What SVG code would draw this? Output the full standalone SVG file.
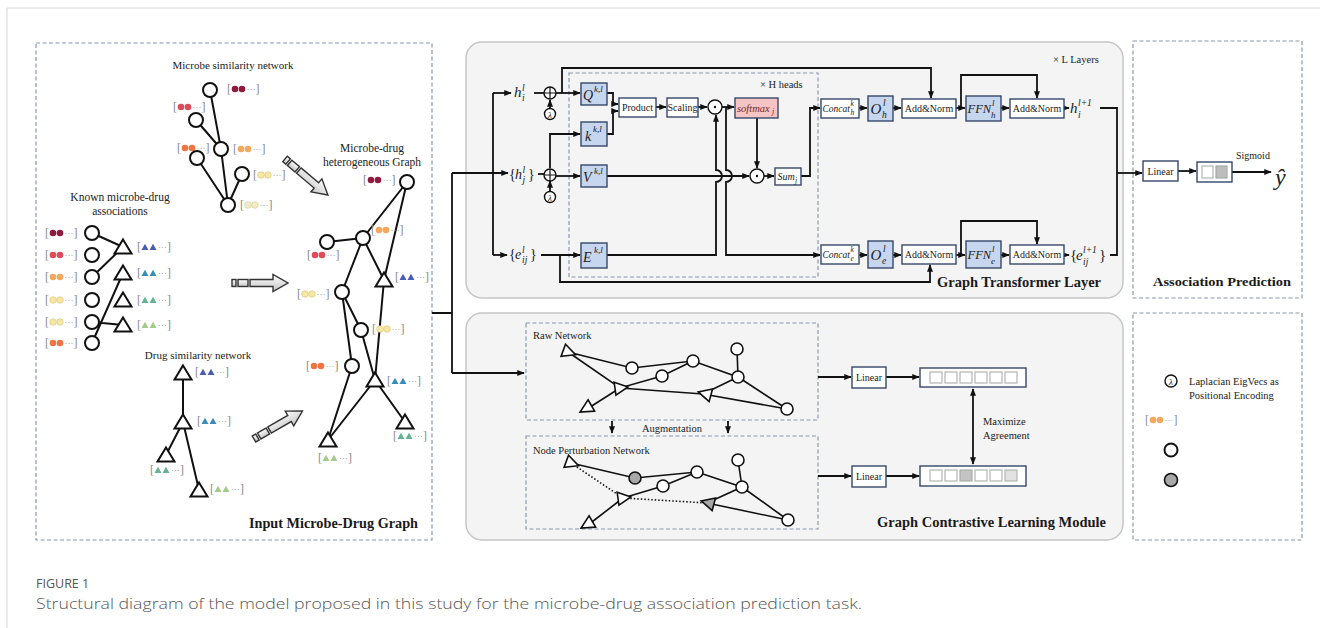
<svg xmlns="http://www.w3.org/2000/svg" width="1320" height="628" viewBox="0 0 1320 628">
<style>
 .t{font-family:'Liberation Serif','DejaVu Serif',serif;fill:#222}
 .m{font-family:'Liberation Serif','DejaVu Serif',serif;font-style:italic;fill:#222}
 .b{font-family:'Liberation Serif','DejaVu Serif',serif;font-weight:bold;fill:#1a1a1a}
 .cap{font-family:'Open Sans','Noto Sans',sans-serif;fill:#555}
 .panel{fill:#F4F4F4;stroke:#C6C6C6;stroke-width:1.5}
 .dash{fill:none;stroke:#8A97AD;stroke-width:1.2;stroke-dasharray:4 2.5}
 .bx{fill:#fff;stroke:#37466A;stroke-width:1.4}
 .bl{fill:#C6D6EF;stroke:#37466A;stroke-width:1.4}
 .pk{fill:#F5C5C5;stroke:#37466A;stroke-width:1.4}
 .ln{fill:none;stroke:#111;stroke-width:1.8}
 .ar{fill:none;stroke:#111;stroke-width:1.8;marker-end:url(#ah)}
 .e{fill:none;stroke:#111;stroke-width:2}
 .e2{fill:none;stroke:#111;stroke-width:1.6}
 .dt{fill:none;stroke:#111;stroke-width:1.6;stroke-dasharray:1.5 2}
 .nd{fill:#fff;stroke:#111;stroke-width:2}
 .nd2{fill:#fff;stroke:#111;stroke-width:1.6}
 .gy{fill:#A8A8A8;stroke:#111;stroke-width:1.6}
 .br{font-family:'Liberation Serif',serif;font-size:12px;fill:#8a8a8a;stroke:none}
 .el{font-family:'Liberation Serif',serif;font-size:9px;fill:#8a8a8a;stroke:none}
 .sq{fill:#fff;stroke:#B4B4B4;stroke-width:1.2}
 .op{fill:#fff;stroke:#111;stroke-width:1.4}
 .ha{fill:url(#hg);stroke:#333;stroke-width:1.4}
</style>
<defs>
 <marker id="ah" viewBox="0 0 10 10" refX="9" refY="5" markerWidth="7.5" markerHeight="7.5" markerUnits="userSpaceOnUse" orient="auto-start-reverse">
  <path d="M0,1 L10,5 L0,9 z" fill="#111"/>
 </marker>
 <linearGradient id="hg" x1="0" y1="0" x2="0" y2="1">
  <stop offset="0" stop-color="#ffffff"/>
  <stop offset="1" stop-color="#c4c4c4"/>
 </linearGradient>
 <!-- feature vector label with two dots -->
 <g id="lc">
  <text class="br" x="0" y="4">[</text>
  <circle cx="8" cy="0" r="3.3"/>
  <circle cx="15" cy="0" r="3.3"/>
  <text class="el" x="19.5" y="2.5">···</text>
  <text class="br" x="28.5" y="4">]</text>
 </g>
 <!-- feature vector label with two triangles -->
 <g id="lt">
  <text class="br" x="0" y="4">[</text>
  <path d="M4.5,3 L8,-3.2 L11.5,3Z M12.5,3 L16,-3.2 L19.5,3Z"/>
  <text class="el" x="21" y="2.5">···</text>
  <text class="br" x="30" y="4">]</text>
 </g>
 <path id="tri" d="M0,-7.5 L8.5,6.5 L-8.5,6.5 Z"/>
 <path id="tr2" d="M-5,-6.5 L8,0 L-5,6.5 Z"/>
 <g id="harrow">
  <rect x="0" y="-3.5" width="4" height="7"/>
  <rect x="6" y="-3.5" width="10" height="7"/>
  <path d="M18,-3.5 H41 V-8.5 L56,0 L41,8.5 V3.5 H18 Z"/>
 </g>
</defs>

<!-- page frame -->
<path d="M7,628 V8 H1320" fill="none" stroke="#D4D4D4" stroke-width="1"/>

<!-- panels -->
<g id="panels">
 <rect class="dash" x="36" y="43" width="396" height="497"/>
 <rect class="panel" x="466" y="42" width="657" height="256" rx="16"/>
 <rect class="dash" x="569" y="73" width="249" height="204"/>
 <rect class="dash" x="1133" y="41" width="169" height="257"/>
 <rect class="panel" x="466" y="313" width="657" height="227" rx="16"/>
 <rect class="dash" x="526" y="323" width="292" height="97"/>
 <rect class="dash" x="526" y="436" width="292" height="93"/>
 <rect class="dash" x="1133" y="313" width="169" height="227"/>
</g>

<!-- connectors -->
<g id="connectors">
 <!-- microbe similarity network -->
 <path class="e" d="M210,90 L221,149 M196,120 L221,149 M221,149 L228,205 M197,158 L228,205 M242,174 L228,205"/>
 <!-- known associations -->
 <path class="e" d="M92,233 L123,247 M92,277 L123,247 M92,343 L123,273 M92,322 L123,325"/>
 <!-- drug similarity network -->
 <path class="e" d="M183,373 L183,422 M183,422 L166,455 M183,422 L199,490"/>
 <!-- heterogeneous graph -->
 <path class="e" d="M407,182 L363,238 M407,182 L384,280 M327,242 L363,238 M363,238 L342,292 M363,238 L384,280 M342,292 L352,366 M342,292 L361,330 M361,330 L375,380 M384,280 L375,380 M352,366 L328,440 M375,380 L328,440 M375,380 L405,422"/>

 <!-- input fan-out -->
 <path class="ln" d="M432,313 H452 M452,173 V373"/>
 <path class="ar" d="M452,173 H508"/>
 <path class="ar" d="M452,373 H524"/>
 <path class="ln" d="M493,93 V255"/>
 <path class="ar" d="M493,93 H511"/>
 <path class="ar" d="M493,255 H507"/>

 <!-- node stream -->
 <path class="ln" d="M534,93 H544"/>
 <path class="ar" d="M556,93 H580"/>
 <path class="ar" d="M550,108 V100"/>
 <path class="ar" d="M562,93 V68 H931 V98"/>
 <path class="ln" d="M538,174 H544"/>
 <path class="ar" d="M556,176 H580"/>
 <path class="ar" d="M550,168 V134 H580"/>
 <path class="ar" d="M550,191 V181"/>
 <path class="ar" d="M607,93 H613 V104 H618"/>
 <path class="ar" d="M607,134 H613 V111 H618"/>
 <path class="ar" d="M656,107 H666"/>
 <path class="ar" d="M698,107 H707"/>
 <path class="ar" d="M722,107 H734"/>
 <path class="ar" d="M757,118 V168"/>
 <path class="ar" d="M607,176 H749"/>
 <path class="ar" d="M764,176 H774"/>
 <path class="ar" d="M801,176 H810 V108 H820"/>
 <!-- edge features into score, score into edge stream (hopping over value line) -->
 <path class="ar" d="M607,255 H716 V182 A6,6 0 0 0 716,170 V115"/>
 <path class="ar" d="M726,107 V170 A6,6 0 0 1 726,182 V255 H820"/>
 <path class="ar" d="M859,108 H867"/>
 <path class="ar" d="M893,108 H901"/>
 <path class="ar" d="M956,108 H965"/>
 <path class="ar" d="M961,108 V75 H1037 V98"/>
 <path class="ar" d="M1001,108 H1009"/>
 <path class="ar" d="M1064,108 H1069"/>
 <!-- edge stream -->
 <path class="ar" d="M541,255 H580"/>
 <path class="ar" d="M560,255 V282 H930 V265"/>
 <path class="ar" d="M859,255 H867"/>
 <path class="ar" d="M893,255 H901"/>
 <path class="ar" d="M956,255 H965"/>
 <path class="ar" d="M961,255 V221 H1037 V244"/>
 <path class="ar" d="M1001,255 H1009"/>
 <path class="ar" d="M1064,255 H1069"/>
 <!-- outputs to prediction -->
 <path class="ln" d="M1100,108 H1117 V255 H1110"/>
 <path class="ar" d="M1117,173 H1142"/>
 <path class="ar" d="M1178,171 H1196"/>
 <path class="ar" d="M1232,172 H1271"/>

 <!-- contrastive module -->
 <path class="ar" d="M612,421 V433"/>
 <path class="ar" d="M728,421 V433"/>
 <path class="ar" d="M818,377 H851"/>
 <path class="ar" d="M886,377 H919"/>
 <path class="ar" d="M818,476 H851"/>
 <path class="ar" d="M886,476 H919"/>
 <path class="ar" d="M973,389 V464" marker-start="url(#ah)"/>

 <!-- raw network edges -->
 <path class="e2" d="M568,352 L632,368 L693,361 L738,377 L737,349 M568,352 L620,388 L662,376 L693,361 M620,388 L703,394 L738,377 L787,409 M703,394 L787,409 M620,388 L587,409"/>
 <!-- perturbed network edges -->
 <path class="e2" d="M571,463 L635,478 L697,472 L742,487 L738,460 M623,498 L663,486 L697,472 M707,503 L742,487 L788,520 M707,503 L788,520 M623,498 L588,525"/>
 <path class="dt" d="M571,463 L623,498 L707,503"/>
</g>

<!-- microbe similarity network -->
<g id="ms-1"><circle class="nd" cx="210" cy="90" r="7"/><use href="#lc" x="227" y="89" fill="#8E1B3F"/></g>
<g id="ms-2"><circle class="nd" cx="196" cy="120" r="7"/><use href="#lc" x="173" y="107" fill="#DE4B5B"/></g>
<g id="ms-3"><circle class="nd" cx="221" cy="149" r="7"/><use href="#lc" x="233" y="149" fill="#F2A95E"/><use href="#lc" x="177" y="148" fill="#EE7442"/></g>
<g id="ms-4"><circle class="nd" cx="197" cy="158" r="7"/></g>
<g id="ms-5"><circle class="nd" cx="242" cy="174" r="7"/><use href="#lc" x="253" y="175" fill="#F6E7A2" stroke="#D5C276" stroke-width="0.6"/></g>
<g id="ms-6"><circle class="nd" cx="228" cy="205" r="7"/><use href="#lc" x="240" y="205" fill="#F1EDC4" stroke="#D3CB98" stroke-width="0.6"/></g>
<g id="ms-title"><text class="t" x="233" y="69" font-size="11" text-anchor="middle">Microbe similarity network</text></g>

<!-- known microbe-drug associations -->
<g id="ka-title"><text class="t" x="120" y="201" font-size="11.5" text-anchor="middle">Known microbe-drug</text><text class="t" x="120" y="215" font-size="11.5" text-anchor="middle">associations</text></g>
<g id="ka-m1"><circle class="nd" cx="92" cy="233" r="7"/><use href="#lc" x="45" y="233" fill="#8E1B3F"/></g>
<g id="ka-m2"><circle class="nd" cx="92" cy="255" r="7"/><use href="#lc" x="45" y="255" fill="#DE4B5B"/></g>
<g id="ka-m3"><circle class="nd" cx="92" cy="277" r="7"/><use href="#lc" x="45" y="277" fill="#F2A95E"/></g>
<g id="ka-m4"><circle class="nd" cx="92" cy="300" r="7"/><use href="#lc" x="45" y="300" fill="#F6E7A2" stroke="#D5C276" stroke-width="0.6"/></g>
<g id="ka-m5"><circle class="nd" cx="92" cy="322" r="7"/><use href="#lc" x="45" y="322" fill="#F6E7A2" stroke="#D5C276" stroke-width="0.6"/></g>
<g id="ka-m6"><circle class="nd" cx="92" cy="343" r="7"/><use href="#lc" x="45" y="343" fill="#EE7442"/></g>
<g id="ka-d1"><use href="#tri" class="nd" x="123" y="247"/><use href="#lt" x="137" y="247" fill="#4A5DB0"/></g>
<g id="ka-d2"><use href="#tri" class="nd" x="123" y="273"/><use href="#lt" x="137" y="273" fill="#3A8DB8"/></g>
<g id="ka-d3"><use href="#tri" class="nd" x="123" y="300"/><use href="#lt" x="137" y="300" fill="#66B293"/></g>
<g id="ka-d4"><use href="#tri" class="nd" x="123" y="325"/><use href="#lt" x="137" y="325" fill="#A7C98C"/></g>

<!-- drug similarity network -->
<g id="ds-title"><text class="t" x="198" y="359" font-size="11" text-anchor="middle">Drug similarity network</text></g>
<g id="ds-1"><use href="#tri" class="nd" x="183" y="373"/><use href="#lt" x="195" y="372" fill="#4A5DB0"/></g>
<g id="ds-2"><use href="#tri" class="nd" x="183" y="422"/><use href="#lt" x="197" y="421" fill="#3A8DB8"/></g>
<g id="ds-3"><use href="#tri" class="nd" x="166" y="455"/><use href="#lt" x="150" y="470" fill="#66B293"/></g>
<g id="ds-4"><use href="#tri" class="nd" x="199" y="490"/><use href="#lt" x="210" y="489" fill="#A7C98C"/></g>

<!-- merge arrows -->
<g id="merge-arrows" class="ha">
 <use href="#harrow" transform="translate(232,283)"/>
 <use href="#harrow" transform="translate(285,159) rotate(40)"/>
 <use href="#harrow" transform="translate(254,439) rotate(-30)"/>
</g>

<!-- heterogeneous graph -->
<g id="hg-title"><text class="t" x="372" y="152" font-size="11.5" text-anchor="middle">Microbe-drug</text><text class="t" x="372" y="166" font-size="11.5" text-anchor="middle">heterogeneous Graph</text></g>
<g id="hg-1"><circle class="nd" cx="407" cy="182" r="7"/><use href="#lc" x="363" y="180" fill="#8E1B3F"/></g>
<g id="hg-2"><circle class="nd" cx="363" cy="238" r="7"/><use href="#lc" x="371" y="230" fill="#F2A95E"/></g>
<g id="hg-3"><circle class="nd" cx="327" cy="242" r="7"/><use href="#lc" x="307" y="255" fill="#DE4B5B"/></g>
<g id="hg-4"><use href="#tri" class="nd" x="384" y="280"/><use href="#lt" x="395" y="277" fill="#4A5DB0"/></g>
<g id="hg-5"><circle class="nd" cx="342" cy="292" r="7"/><use href="#lc" x="297" y="294" fill="#F6E7A2" stroke="#D5C276" stroke-width="0.6"/></g>
<g id="hg-6"><circle class="nd" cx="361" cy="330" r="7"/><use href="#lc" x="372" y="329" fill="#F6E7A2" stroke="#D5C276" stroke-width="0.6"/></g>
<g id="hg-7"><circle class="nd" cx="352" cy="366" r="7"/><use href="#lc" x="306" y="366" fill="#EE7442"/></g>
<g id="hg-8"><use href="#tri" class="nd" x="375" y="380"/><use href="#lt" x="387" y="381" fill="#3A8DB8"/></g>
<g id="hg-9"><use href="#tri" class="nd" x="405" y="422"/><use href="#lt" x="393" y="436" fill="#66B293"/></g>
<g id="hg-10"><use href="#tri" class="nd" x="328" y="440"/><use href="#lt" x="318" y="458" fill="#A7C98C"/></g>
<g id="input-title"><text class="b" x="249" y="528" font-size="14.5" textLength="169" lengthAdjust="spacingAndGlyphs">Input Microbe-Drug Graph</text></g>

<!-- graph transformer layer -->
<g id="gt-labels">
 <text class="t" x="1053" y="63" font-size="10.5"><tspan fill="#222">×</tspan> L  Layers</text>
 <text class="t" x="760" y="88" font-size="10.5"><tspan fill="#222">×</tspan> H  heads</text>
 <text class="b" x="937" y="287" font-size="14.5" textLength="164" lengthAdjust="spacingAndGlyphs">Graph Transformer Layer</text>
</g>
<g id="hi"><text class="m" font-size="15"><tspan x="514" y="97">h</tspan><tspan x="522" y="91" font-size="9.5">l</tspan><tspan x="522" y="101" font-size="9.5">i</tspan></text></g>
<g id="hj"><text class="m" font-size="14"><tspan x="509" y="179" font-style="normal">{</tspan><tspan x="515" y="179">h</tspan><tspan x="522.5" y="173" font-size="9.5">l</tspan><tspan x="522.5" y="183" font-size="9.5">j</tspan><tspan x="528" y="179" font-style="normal">}</tspan></text></g>
<g id="eij"><text class="m" font-size="14"><tspan x="509" y="259" font-style="normal">{</tspan><tspan x="515" y="259">e</tspan><tspan x="522" y="253" font-size="9.5">l</tspan><tspan x="522" y="263" font-size="9.5">ij</tspan><tspan x="530" y="259" font-style="normal">}</tspan></text></g>
<g id="pe-h"><circle class="op" cx="550" cy="93" r="6"/><path d="M544,93 H556 M550,87 V99" stroke="#111" stroke-width="1.2"/><circle class="op" cx="550" cy="114" r="5.5"/><text class="m" x="550" y="117.5" font-size="9" text-anchor="middle">λ</text></g>
<g id="pe-j"><circle class="op" cx="550" cy="175" r="6"/><path d="M544,175 H556 M550,169 V181" stroke="#111" stroke-width="1.2"/><circle class="op" cx="550" cy="197" r="5.5"/><text class="m" x="550" y="200.5" font-size="9" text-anchor="middle">λ</text></g>
<g id="q"><rect class="bl" x="581" y="83" width="26" height="22"/><text class="m" font-size="14"><tspan x="583" y="100">Q</tspan><tspan x="594" y="92" font-size="9">k,l</tspan></text></g>
<g id="k"><rect class="bl" x="581" y="122" width="26" height="24"/><text class="m" font-size="14"><tspan x="585" y="141">k</tspan><tspan x="593" y="132" font-size="9">k,l</tspan></text></g>
<g id="v"><rect class="bl" x="581" y="165" width="26" height="22"/><text class="m" font-size="14"><tspan x="583" y="182">V</tspan><tspan x="594" y="174" font-size="9">k,l</tspan></text></g>
<g id="ek"><rect class="bl" x="581" y="243" width="26" height="25"/><text class="m" font-size="14"><tspan x="583" y="262">E</tspan><tspan x="594" y="253" font-size="9">k,l</tspan></text></g>
<g id="product"><rect class="bx" x="619" y="98" width="37" height="19"/><text class="t" x="637.5" y="111" font-size="10" text-anchor="middle">Product</text></g>
<g id="scaling"><rect class="bx" x="667" y="98" width="31" height="19"/><text class="t" x="682.5" y="111" font-size="10" text-anchor="middle">Scaling</text></g>
<g id="mul1"><circle class="op" cx="715" cy="107" r="7"/><circle cx="715" cy="107" r="1.2" fill="#111"/></g>
<g id="softmax"><rect class="pk" x="735" y="98" width="43" height="20"/><text class="m" font-size="10.5" fill="#7A1E22"><tspan x="737" y="111.5" fill="#7A1E22">softmax</tspan><tspan x="772" y="114" font-size="8" fill="#7A1E22">j</tspan></text></g>
<g id="mul2"><circle class="op" cx="757" cy="176" r="7"/><circle cx="757" cy="176" r="1.2" fill="#111"/></g>
<g id="sum"><rect class="bx" x="775" y="168" width="26" height="17"/><text class="m" font-size="10"><tspan x="777.5" y="180">Sum</tspan><tspan x="795" y="182.5" font-size="7.5">j</tspan></text></g>
<g id="concat-h"><rect class="bx" x="821" y="99" width="38" height="19"/><text class="m" font-size="9.5"><tspan x="822.5" y="112">Concat</tspan><tspan x="850.5" y="106" font-size="7.5">k</tspan><tspan x="850.5" y="115" font-size="7.5">h</tspan></text></g>
<g id="o-h"><rect class="bl" x="868" y="96" width="25" height="25"/><text class="m" font-size="15"><tspan x="870.5" y="114">O</tspan><tspan x="883" y="106" font-size="9.5">l</tspan><tspan x="882" y="118" font-size="9.5">h</tspan></text></g>
<g id="addnorm-h1"><rect class="bx" x="902" y="99" width="54" height="19"/><text class="t" x="929" y="112" font-size="10" text-anchor="middle">Add&amp;Norm</text></g>
<g id="ffn-h"><rect class="bl" x="966" y="96" width="35" height="25"/><text class="m" font-size="12.5"><tspan x="967.5" y="113">FFN</tspan><tspan x="992" y="106" font-size="9">l</tspan><tspan x="991" y="118" font-size="9">h</tspan></text></g>
<g id="addnorm-h2"><rect class="bx" x="1010" y="99" width="54" height="19"/><text class="t" x="1037" y="112" font-size="10" text-anchor="middle">Add&amp;Norm</text></g>
<g id="hi-next"><text class="m" font-size="15"><tspan x="1070" y="113">h</tspan><tspan x="1078" y="106" font-size="9.5">l+1</tspan><tspan x="1078" y="118" font-size="9.5">i</tspan></text></g>
<g id="concat-e"><rect class="bx" x="821" y="245" width="38" height="19"/><text class="m" font-size="9.5"><tspan x="822.5" y="258">Concat</tspan><tspan x="850.5" y="252" font-size="7.5">k</tspan><tspan x="850.5" y="261" font-size="7.5">e</tspan></text></g>
<g id="o-e"><rect class="bl" x="868" y="241" width="25" height="27"/><text class="m" font-size="15"><tspan x="870.5" y="260">O</tspan><tspan x="883" y="252" font-size="9.5">l</tspan><tspan x="882" y="264" font-size="9.5">e</tspan></text></g>
<g id="addnorm-e1"><rect class="bx" x="902" y="245" width="54" height="19"/><text class="t" x="929" y="258" font-size="10" text-anchor="middle">Add&amp;Norm</text></g>
<g id="ffn-e"><rect class="bl" x="966" y="241" width="35" height="27"/><text class="m" font-size="12.5"><tspan x="967.5" y="259">FFN</tspan><tspan x="992" y="252" font-size="9">l</tspan><tspan x="991" y="264" font-size="9">e</tspan></text></g>
<g id="addnorm-e2"><rect class="bx" x="1010" y="245" width="54" height="19"/><text class="t" x="1037" y="258" font-size="10" text-anchor="middle">Add&amp;Norm</text></g>
<g id="eij-next"><text class="m" font-size="15"><tspan x="1070" y="260" font-style="normal">{</tspan><tspan x="1076" y="260">e</tspan><tspan x="1083" y="253" font-size="9.5">l+1</tspan><tspan x="1083" y="265" font-size="9.5">ij</tspan><tspan x="1099" y="260" font-style="normal">}</tspan></text></g>

<!-- association prediction -->
<g id="ap-linear"><rect class="bx" x="1143" y="161" width="35" height="20"/><text class="t" x="1160.5" y="175" font-size="10" text-anchor="middle">Linear</text></g>
<g id="ap-vector"><rect class="bx" x="1197" y="162" width="35" height="20"/><rect class="sq" x="1202" y="166" width="11" height="12"/><rect x="1216" y="166" width="11" height="12" fill="#BDBDBD" stroke="#A8A8A8" stroke-width="1.2"/></g>
<g id="ap-out"><text class="t" x="1236" y="159" font-size="10">Sigmoid</text><text class="m" x="1275" y="185" font-size="24">ŷ</text></g>
<g id="ap-title"><text class="b" x="1153" y="286" font-size="13.5" textLength="138" lengthAdjust="spacingAndGlyphs">Association Prediction</text></g>

<!-- graph contrastive learning module -->
<g id="cl-labels">
 <text class="t" x="533" y="339" font-size="10.5">Raw Network</text>
 <text class="t" x="533" y="454" font-size="10.5">Node Perturbation Network</text>
 <text class="t" x="672" y="432" font-size="10.5" text-anchor="middle">Augmentation</text>
 <text class="t" x="983" y="425" font-size="10.5">Maximize</text>
 <text class="t" x="983" y="439" font-size="10.5">Agreement</text>
 <text class="b" x="877" y="527" font-size="14.5" textLength="229" lengthAdjust="spacingAndGlyphs">Graph Contrastive Learning Module</text>
</g>
<g id="raw-t1"><use href="#tr2" class="nd2" transform="translate(568,352) rotate(20)"/></g>
<g id="raw-t2"><use href="#tr2" class="nd2" transform="translate(620,388) rotate(-8)"/></g>
<g id="raw-t3"><use href="#tr2" class="nd2" transform="translate(706,394) rotate(195)"/></g>
<g id="raw-t4"><use href="#tr2" class="nd2" transform="translate(587,408) rotate(150)"/></g>
<g id="raw-c1"><circle class="nd2" cx="632" cy="368" r="6"/></g>
<g id="raw-c2"><circle class="nd2" cx="693" cy="361" r="6"/></g>
<g id="raw-c3"><circle class="nd2" cx="662" cy="376" r="6"/></g>
<g id="raw-c4"><circle class="nd2" cx="737" cy="349" r="6"/></g>
<g id="raw-c5"><circle class="nd2" cx="738" cy="377" r="6"/></g>
<g id="raw-c6"><circle class="nd2" cx="787" cy="409" r="6"/></g>
<g id="np-t1"><use href="#tr2" class="nd2" transform="translate(571,463) rotate(20)"/></g>
<g id="np-t2"><use href="#tr2" class="nd2" transform="translate(623,498) rotate(-8)"/></g>
<g id="np-t3"><use href="#tr2" class="gy" transform="translate(709,503) rotate(195)"/></g>
<g id="np-t4"><use href="#tr2" class="nd2" transform="translate(588,524) rotate(150)"/></g>
<g id="np-c1"><circle class="gy" cx="635" cy="478" r="6"/></g>
<g id="np-c2"><circle class="nd2" cx="697" cy="472" r="6"/></g>
<g id="np-c3"><circle class="nd2" cx="663" cy="486" r="6"/></g>
<g id="np-c4"><circle class="nd2" cx="738" cy="460" r="6"/></g>
<g id="np-c5"><circle class="nd2" cx="742" cy="487" r="6"/></g>
<g id="np-c6"><circle class="nd2" cx="788" cy="520" r="6"/></g>
<g id="cl-linear1"><rect class="bx" x="852" y="367" width="34" height="21"/><text class="t" x="869" y="381" font-size="10" text-anchor="middle">Linear</text></g>
<g id="cl-linear2"><rect class="bx" x="852" y="466" width="34" height="21"/><text class="t" x="869" y="480" font-size="10" text-anchor="middle">Linear</text></g>
<g id="cl-vec1">
 <rect class="bx" x="920" y="368" width="106" height="19"/>
 <rect class="sq" x="930" y="372" width="12" height="11"/><rect class="sq" x="945" y="372" width="12" height="11"/><rect class="sq" x="960" y="372" width="12" height="11"/>
 <rect class="sq" x="975" y="372" width="12" height="11"/><rect class="sq" x="990" y="372" width="12" height="11"/><rect class="sq" x="1005" y="372" width="12" height="11"/>
</g>
<g id="cl-vec2">
 <rect class="bx" x="920" y="466" width="106" height="20"/>
 <rect class="sq" x="930" y="470" width="12" height="11"/><rect class="sq" x="945" y="470" width="12" height="11"/><rect x="960" y="470" width="12" height="11" fill="#C4C4C4" stroke="#ABABAB" stroke-width="1.2"/>
 <rect class="sq" x="975" y="470" width="12" height="11"/><rect class="sq" x="990" y="470" width="12" height="11"/><rect x="1005" y="470" width="12" height="11" fill="#E2E2E2" stroke="#B4B4B4" stroke-width="1.2"/>
</g>

<!-- legend -->
<g id="legend">
 <circle class="op" cx="1171" cy="381" r="6"/><text class="m" x="1171" y="384.5" font-size="9" text-anchor="middle">λ</text>
 <text class="t" x="1189" y="385" font-size="10.5">Laplacian EigVecs as</text>
 <text class="t" x="1189" y="399" font-size="10.5">Positional Encoding</text>
 <use href="#lc" x="1145" y="420" fill="#F2A95E"/>
 <circle class="nd" cx="1171" cy="450" r="6.5"/>
 <circle class="gy" cx="1171" cy="480" r="6.5" stroke-width="2"/>
</g>

<!-- caption -->
<g id="caption">
 <text class="cap" x="36" y="588" font-size="12.5">FIGURE 1</text>
 <text class="cap" x="36" y="609" font-size="15" font-weight="300" textLength="826" lengthAdjust="spacingAndGlyphs">Structural diagram of the model proposed in this study for the microbe-drug association prediction task.</text>
</g>
</svg>
